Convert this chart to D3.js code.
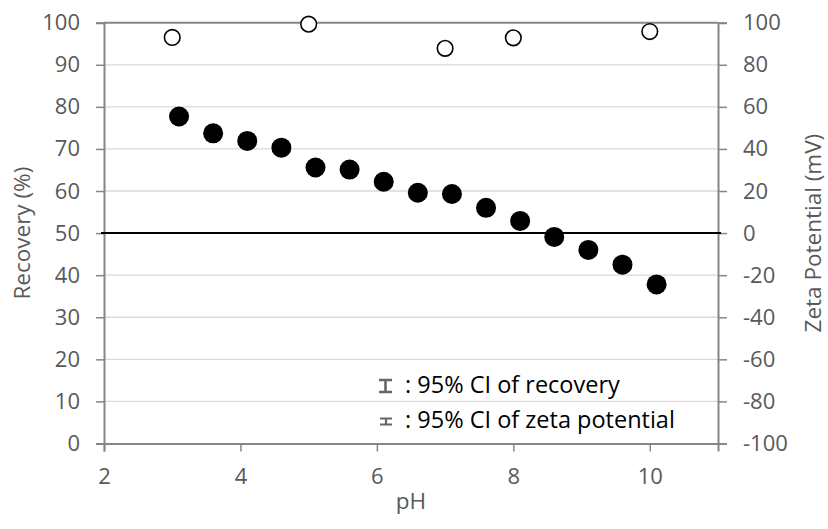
<!DOCTYPE html>
<html><head><meta charset="utf-8">
<script src="https://cdn.jsdelivr.net/npm/d3@7"></script>
<style>body{margin:0;background:#fff}text{font-family:"Open Sans",sans-serif;fill:#595959}</style>
</head><body><svg id="c" width="828" height="529"></svg>
<script>
const recPH = [3.1,3.6,4.1,4.6,5.1,5.6,6.1,6.6,7.1,7.6,8.1,8.6,9.1,9.6,10.1];
const recovery = [77.7,73.7,71.9,70.3,65.6,65.1,62.2,59.6,59.3,56.0,52.9,49.1,46.0,42.5,37.8];
const zetaPH = [3,5,7,8,10];
const zeta = [93.0,99.3,87.8,92.8,95.8];
const xTicks = [2,4,6,8,10];
const yLeftTicks = [0,10,20,30,40,50,60,70,80,90,100];
const yRightTicks = [-100,-80,-60,-40,-20,0,20,40,60,80,100];
const legendItems = [": 95% CI of recovery", ": 95% CI of zeta potential"];

const svg = d3.select("#c");
const L=104, R=718, T=22.7, B=443.5;
const x = d3.scaleLinear().domain([2,11]).range([L,R]);
const yL = d3.scaleLinear().domain([0,100]).range([B,T]);
const yR = d3.scaleLinear().domain([-100,100]).range([B,T]);
const axisCol="#868686", gridCol="#d9d9d9";
const fmt = d => String(d);

// gridlines
svg.append("g").selectAll("line").data(yLeftTicks.filter(d=>d>0&&d<100)).join("line")
  .attr("x1",L).attr("x2",R).attr("y1",d=>yL(d)).attr("y2",d=>yL(d))
  .attr("stroke",gridCol).attr("stroke-width",1.3);

function styleAxis(g){
  g.select(".domain").attr("stroke",axisCol).attr("stroke-width",2);
  g.selectAll(".tick line").attr("stroke",axisCol).attr("stroke-width",1.5);
  g.selectAll(".tick text").style("font-size","22px").attr("fill","#595959");
}
svg.append("g").attr("transform",`translate(0,${B})`)
  .call(d3.axisBottom(x).tickValues(xTicks).tickFormat(fmt).tickSizeOuter(0).tickSize(8).tickPadding(17))
  .call(styleAxis);
svg.append("g").attr("transform",`translate(${L},0)`)
  .call(d3.axisLeft(yL).tickValues(yLeftTicks).tickFormat(fmt).tickSizeOuter(0).tickSize(8).tickPadding(16))
  .call(styleAxis);
svg.append("g").attr("transform",`translate(${R},0)`)
  .call(d3.axisRight(yR).tickValues(yRightTicks).tickFormat(fmt).tickSizeOuter(0).tickSize(9).tickPadding(16))
  .call(styleAxis);
// top frame
svg.append("line").attr("x1",L).attr("x2",R).attr("y1",T).attr("y2",T)
  .attr("stroke",axisCol).attr("stroke-width",2);
// zero line
svg.append("line").attr("x1",L-3).attr("x2",R+3).attr("y1",yR(0)).attr("y2",yR(0))
  .attr("stroke","#000").attr("stroke-width",2);

// titles
svg.append("text").attr("x",(L+R)/2).attr("y",509).attr("text-anchor","middle")
  .style("font-size","22.5px").text("pH");
svg.append("text").attr("transform",`translate(30,${(T+B)/2}) rotate(-90)`).attr("text-anchor","middle")
  .style("font-size","22.5px").text("Recovery (%)");
svg.append("text").attr("transform",`translate(821,${(T+B)/2}) rotate(-90)`).attr("text-anchor","middle")
  .style("font-size","22.5px").text("Zeta Potential (mV)");

// legend
const lg = svg.append("g");
lg.selectAll("text").data(legendItems).join("text")
  .attr("x",405).attr("y",(d,i)=>393+i*35).style("font-size","23.5px").style("fill","#000").text(d=>d);
const sym = lg.append("g").attr("stroke","#666").attr("fill","none");
// recovery CI symbol
sym.append("path").attr("d","M379,380H392M385.5,380V392M379,392H392").attr("stroke-width",2.6);
// zeta CI symbol
sym.append("path").attr("d","M380,418.5H392M386,418.5V424.5M380,424.5H392").attr("stroke-width",2.2);

// points
svg.append("g").selectAll("circle").data(zetaPH.map((p,i)=>[p,zeta[i]])).join("circle")
  .attr("cx",d=>x(d[0])).attr("cy",d=>yR(d[1])).attr("r",7.8)
  .attr("fill","#fff").attr("stroke","#000").attr("stroke-width",1.6);
svg.append("g").selectAll("circle").data(recPH.map((p,i)=>[p,recovery[i]])).join("circle")
  .attr("cx",d=>x(d[0])).attr("cy",d=>yL(d[1])).attr("r",10).attr("fill","#000");
</script></body></html>
